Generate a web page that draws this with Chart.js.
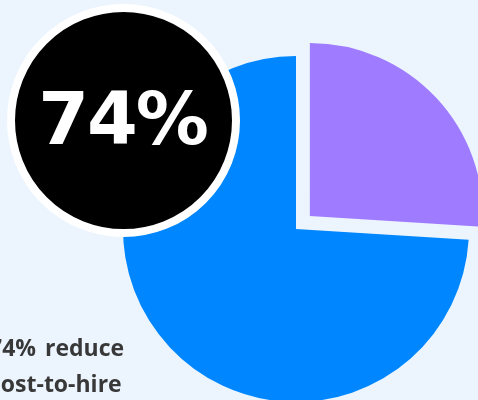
<!DOCTYPE html>
<html>
<head>
<meta charset="utf-8">
<script src="https://cdn.jsdelivr.net/npm/chart.js@4/dist/chart.umd.min.js"></script>
<style>
  html, body { margin: 0; padding: 0; }
  body { width: 478px; height: 400px; overflow: hidden; background: #ECF5FE; position: relative; }
  #c { position: absolute; left: 0; top: 0; }
  #badge {
    position: absolute; left: 7px; top: 4px; width: 217px; height: 217px;
    border-radius: 50%; background: #000; border: 8px solid #fff;
    display: flex; align-items: center; justify-content: center;
    color: #fff; font-family: "DejaVu Sans", sans-serif; font-weight: bold; font-size: 73px;
    letter-spacing: -2px;
  }
  #badge span { position: relative; top: -2px; left: -1px; }
  #caption {
    position: absolute; left: -11px; top: 329px; white-space: nowrap;
    font-family: "Open Sans", sans-serif; font-weight: bold; font-size: 23px; line-height: 36px; color: #383838;
  }
  #l1 { word-spacing: 3px; }
</style>
</head>
<body>
<canvas id="c" width="478" height="400"></canvas>
<div id="badge"><span id="big"></span></div>
<div id="caption"><div id="l1"></div><div id="l2"></div></div>
<script>
const categories = ["Other", "Reduce cost-to-hire"];
const values = [26, 74];
const colors = ["#9E7BFF", "#0087FF"];
const offsets = [76, 0];
const headline = "74%";
const captionLines = ["74% reduce", "cost-to-hire"];

document.getElementById("big").textContent = headline;
document.getElementById("l1").textContent = captionLines[0];
document.getElementById("l2").textContent = captionLines[1];

new Chart(document.getElementById("c"), {
  type: "pie",
  data: {
    labels: categories,
    datasets: [{
      data: values,
      backgroundColor: colors,
      borderWidth: 0,
      offset: offsets
    }]
  },
  options: {
    responsive: false,
    animation: false,
    radius: 173,
    layout: { padding: { left: 114, top: 58, right: 0, bottom: 0 } },
    plugins: { legend: { display: false }, tooltip: { enabled: false } }
  }
});
</script>
</body>
</html>
